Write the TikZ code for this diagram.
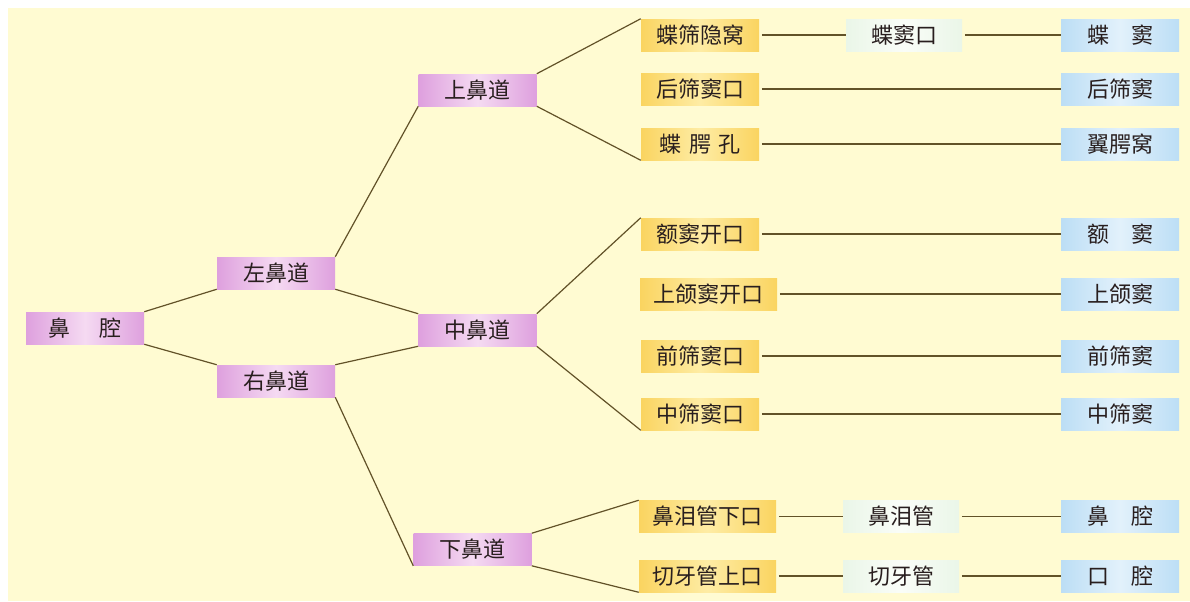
\documentclass[tikz,border=0pt]{standalone}
\usepackage{fontspec}
\setmainfont{Noto Sans CJK SC}
\begin{document}
\begin{tikzpicture}[x=0.75pt,y=-0.75pt,
  box/.style={rectangle, inner sep=0pt, minimum height=24pt, minimum width=88.5pt,
    font=\fontsize{16.5}{18}\selectfont, text=txt},
  pinkbox/.style={box, left color=pk, right color=pk, middle color=pkc},
  ybox/.style={box, left color=yl, right color=yl, middle color=ylc},
  mbox/.style={box, minimum width=87pt, left color=mt, right color=mt, middle color=mtc},
  bbox/.style={box, left color=bl, right color=bl, middle color=blc},
  wide/.style={minimum width=102.75pt},
  conn/.style={draw=ln, line width=0.9pt},
  hconn/.style={conn, shorten <=2pt}]
\definecolor{bg}{RGB}{255,251,210}
\definecolor{pk}{RGB}{222,160,222}
\definecolor{pkc}{RGB}{245,218,242}
\definecolor{yl}{RGB}{250,212,96}
\definecolor{ylc}{RGB}{254,236,164}
\definecolor{mt}{RGB}{234,246,232}
\definecolor{mtc}{RGB}{250,253,248}
\definecolor{bl}{RGB}{188,222,245}
\definecolor{blc}{RGB}{226,241,251}
\definecolor{ln}{RGB}{98,82,40}
\definecolor{txt}{RGB}{40,30,30}
\useasboundingbox (0,0) rectangle (1190,601);
\fill[white] (0,0) rectangle (1190,601);
\fill[bg] (8,8) rectangle (1190,601);
% left
\node[pinkbox] (nq) at (85,328) {鼻\hspace{1.3em}腔};
\node[pinkbox] (zuo) at (276,273) {左鼻道};
\node[pinkbox] (you) at (276,381) {右鼻道};
\node[pinkbox] (shang) at (477.5,90) {上鼻道};
\node[pinkbox] (zhong) at (477.5,330) {中鼻道};
\node[pinkbox] (xia) at (472.5,549.5) {下鼻道};
% yellow
\node[ybox] (y1) at (700,35) {蝶筛隐窝};
\node[ybox] (y2) at (700,89) {后筛窦口};
\node[ybox] (y3) at (700,144) {蝶\hspace{0.35em}腭\hspace{0.35em}孔};
\node[ybox] (y4) at (700,234) {额窦开口};
\node[ybox,wide] (y5) at (708.5,294) {上颌窦开口};
\node[ybox] (y6) at (700,356) {前筛窦口};
\node[ybox] (y7) at (700,414) {中筛窦口};
\node[ybox,wide] (y8) at (707.5,516.5) {鼻泪管下口};
\node[ybox,wide] (y9) at (707.5,576) {切牙管上口};
% mint
\node[mbox] (m1) at (904,35) {蝶窦口};
\node[mbox] (m8) at (901,516.5) {鼻泪管};
\node[mbox] (m9) at (901,576) {切牙管};
% blue
\node[bbox] (b1) at (1120,35) {蝶\hspace{1em}窦};
\node[bbox] (b2) at (1120,89) {后筛窦};
\node[bbox] (b3) at (1120,144) {翼腭窝};
\node[bbox] (b4) at (1120,234) {额\hspace{1em}窦};
\node[bbox] (b5) at (1120,294) {上颌窦};
\node[bbox] (b6) at (1120,356) {前筛窦};
\node[bbox] (b7) at (1120,414) {中筛窦};
\node[bbox] (b8) at (1120,516.5) {鼻\hspace{1em}腔};
\node[bbox] (b9) at (1120,576) {口\hspace{1em}腔};
% tree connectors
\draw[conn] (nq.north east) -- (zuo.south west);
\draw[conn] (nq.south east) -- (you.north west);
\draw[conn] (zuo.north east) -- (shang.south west);
\draw[conn] (zuo.south east) -- (zhong.north west);
\draw[conn] (you.north east) -- (zhong.south west);
\draw[conn] (you.south east) -- (xia.south west);
\draw[conn] (shang.north east) -- (y1.north west);
\draw[conn] (shang.south east) -- (y3.south west);
\draw[conn] (zhong.north east) -- (y4.north west);
\draw[conn] (zhong.south east) -- (y7.south west);
\draw[conn] (xia.north east) -- (y8.north west);
\draw[conn] (xia.south east) -- (y9.south west);
% horizontal connectors
\draw[hconn] (y1) -- (m1);
\draw[hconn] (m1) -- (b1);
\draw[hconn] (y2) -- (b2);
\draw[hconn] (y3) -- (b3);
\draw[hconn] (y4) -- (b4);
\draw[hconn] (y5) -- (b5);
\draw[hconn] (y6) -- (b6);
\draw[hconn] (y7) -- (b7);
\draw[hconn] (y8) -- (m8);
\draw[hconn] (m8) -- (b8);
\draw[hconn] (y9) -- (m9);
\draw[hconn] (m9) -- (b9);
\end{tikzpicture}
\end{document}
